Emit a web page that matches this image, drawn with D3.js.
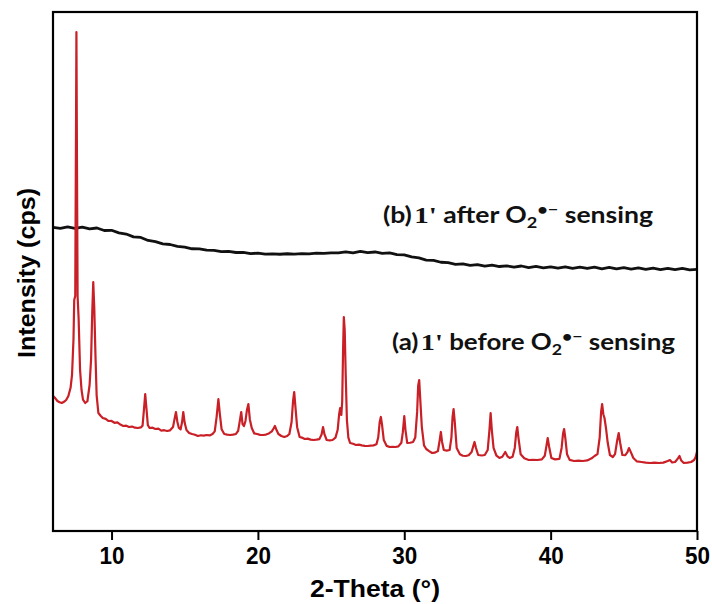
<!DOCTYPE html>
<html>
<head>
<meta charset="utf-8">
<script src="https://cdn.jsdelivr.net/npm/d3@7"></script>
<style>
  html, body { margin: 0; padding: 0; background: #fff; }
  svg { display: block; }
</style>
</head>
<body>
<svg id="chart" width="712" height="604"></svg>
<script>
// XRD patterns of 1' before and after O2•− sensing
// each point: [2θ (degrees), intensity (cps, arbitrary scale)]

// (a) before sensing: sharp crystalline reflections
const beforePattern = [
  [6.0, 2601], [6.15, 2560], [6.3, 2505], [6.45, 2480], [6.6, 2466], [6.75, 2490], [6.9, 2524], [7.05, 2600],
  [7.2, 2760], [7.3, 3006], [7.4, 3700], [7.45, 4450], [7.52, 4528], [7.57, 7600], [7.6, 9615], [7.63, 7600],
  [7.68, 4528], [7.75, 4100], [7.85, 3100], [7.95, 2717], [8.05, 2530], [8.2, 2466], [8.35, 2500], [8.5, 2813],
  [8.6, 3300], [8.68, 4200], [8.75, 4798], [8.82, 4300], [8.9, 3400], [8.98, 2620], [9.1, 2274], [9.25, 2220],
  [9.4, 2177], [9.6, 2160], [9.8, 2119], [10.0, 2120], [10.2, 2085], [10.4, 2092], [10.6, 2050], [10.8, 2023],
  [11.0, 2030], [11.2, 2004], [11.4, 2012], [11.6, 1990], [11.8, 1985], [12.0, 1996], [12.12, 2030], [12.22, 2360],
  [12.3, 2640], [12.38, 2380], [12.48, 2040], [12.6, 1985], [12.8, 1990], [13.0, 1965], [13.2, 1972], [13.4, 1935],
  [13.6, 1942], [13.8, 1927], [14.0, 1940], [14.2, 2004], [14.3, 2150], [14.4, 2293], [14.5, 2100], [14.6, 1985],
  [14.72, 1960], [14.82, 2100], [14.9, 2293], [15.0, 2080], [15.12, 1946], [15.3, 1890], [15.5, 1869], [15.7, 1855],
  [15.9, 1830], [16.1, 1845], [16.3, 1838], [16.5, 1850], [16.7, 1842], [16.9, 1870], [17.05, 1920], [17.18, 2200],
  [17.3, 2543], [17.4, 2250], [17.52, 1960], [17.7, 1869], [17.9, 1858], [18.1, 1850], [18.3, 1856], [18.5, 1870],
  [18.65, 1930], [18.78, 2150], [18.86, 2293], [18.95, 2060], [19.05, 2023], [19.15, 2120], [19.25, 2330], [19.35, 2447],
  [19.45, 2150], [19.58, 1985], [19.75, 1880], [19.95, 1869], [20.15, 1852], [20.35, 1850], [20.55, 1858], [20.75, 1880],
  [20.95, 1920], [21.08, 1980], [21.16, 2023], [21.25, 1960], [21.4, 1869], [21.6, 1830], [21.8, 1811], [22.0, 1830],
  [22.15, 1870], [22.3, 2100], [22.4, 2500], [22.48, 2678], [22.56, 2400], [22.68, 2000], [22.85, 1811], [23.0, 1800],
  [23.2, 1773], [23.4, 1780], [23.6, 1760], [23.8, 1753], [24.0, 1760], [24.2, 1770], [24.35, 1860], [24.45, 2004],
  [24.55, 1860], [24.7, 1753], [24.9, 1745], [25.1, 1753], [25.3, 1800], [25.45, 1950], [25.55, 2250], [25.62, 2370],
  [25.7, 2235], [25.76, 2500], [25.82, 3500], [25.87, 4123], [25.93, 3873], [26.0, 3000], [26.08, 2139], [26.18, 1800],
  [26.3, 1696], [26.5, 1680], [26.7, 1657], [26.9, 1664], [27.1, 1650], [27.3, 1640], [27.5, 1638], [27.7, 1645],
  [27.9, 1650], [28.1, 1670], [28.22, 1800], [28.32, 2100], [28.4, 2197], [28.48, 2050], [28.6, 1753], [28.8, 1640],
  [29.0, 1618], [29.2, 1622], [29.4, 1618], [29.6, 1630], [29.8, 1700], [29.9, 1900], [30.0, 2216], [30.08, 1950],
  [30.2, 1696], [30.4, 1700], [30.6, 1715], [30.75, 1800], [30.88, 2300], [30.95, 2800], [31.02, 2909], [31.1, 2500],
  [31.2, 2000], [31.35, 1650], [31.5, 1580], [31.7, 1540], [31.9, 1503], [32.1, 1510], [32.3, 1541], [32.42, 1750],
  [32.5, 1908], [32.58, 1720], [32.7, 1561], [32.9, 1550], [33.1, 1561], [33.22, 1800], [33.3, 2200], [33.37, 2351],
  [33.45, 2100], [33.58, 1600], [33.8, 1480], [34.0, 1450], [34.2, 1445], [34.4, 1460], [34.6, 1522], [34.72, 1640],
  [34.8, 1715], [34.9, 1600], [35.05, 1464], [35.3, 1455], [35.5, 1464], [35.7, 1560], [35.82, 1950], [35.9, 2274],
  [35.98, 1950], [36.1, 1600], [36.3, 1450], [36.5, 1407], [36.7, 1430], [36.9, 1522], [37.05, 1440], [37.2, 1407],
  [37.4, 1430], [37.55, 1600], [37.65, 1900], [37.72, 2004], [37.8, 1800], [37.95, 1480], [38.2, 1400], [38.5, 1368],
  [38.8, 1372], [39.1, 1368], [39.4, 1380], [39.6, 1450], [39.72, 1650], [39.8, 1792], [39.9, 1620], [40.05, 1407],
  [40.3, 1380], [40.6, 1390], [40.75, 1600], [40.85, 1880], [40.92, 1965], [41.0, 1800], [41.12, 1480], [41.3, 1370],
  [41.6, 1349], [41.9, 1355], [42.2, 1349], [42.5, 1360], [42.8, 1400], [43.0, 1445], [43.2, 1480], [43.35, 1800],
  [43.45, 2300], [43.52, 2447], [43.6, 2250], [43.68, 2177], [43.78, 1985], [43.9, 1700], [44.05, 1464], [44.25, 1426],
  [44.4, 1480], [44.55, 1750], [44.65, 1888], [44.75, 1700], [44.9, 1464], [45.1, 1460], [45.25, 1520], [45.35, 1599],
  [45.48, 1520], [45.65, 1407], [45.9, 1340], [46.2, 1329], [46.5, 1318], [46.8, 1310], [47.1, 1316], [47.4, 1310],
  [47.7, 1318], [48.0, 1349], [48.15, 1368], [48.3, 1320], [48.5, 1330], [48.7, 1400], [48.8, 1445], [48.92, 1360],
  [49.1, 1310], [49.35, 1318], [49.6, 1329], [49.8, 1368], [49.9, 1420], [50.0, 1522]
];

// (b) after sensing: amorphous, broad humps only
const afterPattern = [
  [6.0, 5850], [6.5, 5830], [7.0, 5858], [7.5, 5832], [8.0, 5856], [8.5, 5820], [9.0, 5838], [9.5, 5790],
  [10.0, 5794], [10.5, 5744], [11.0, 5722], [11.5, 5668], [12.0, 5656], [12.5, 5598], [13.0, 5576], [13.5, 5532],
  [14.0, 5520], [14.5, 5484], [15.0, 5468], [15.5, 5438], [16.0, 5436], [16.5, 5412], [17.0, 5406], [17.5, 5384],
  [18.0, 5386], [18.5, 5366], [19.0, 5368], [19.5, 5344], [20.0, 5354], [20.5, 5334], [21.0, 5340], [21.5, 5332],
  [22.0, 5342], [22.5, 5336], [23.0, 5344], [23.5, 5340], [24.0, 5354], [24.5, 5350], [25.0, 5360], [25.5, 5358],
  [26.0, 5380], [26.5, 5360], [27.0, 5386], [27.5, 5362], [28.0, 5376], [28.5, 5348], [29.0, 5358], [29.5, 5326],
  [30.0, 5320], [30.5, 5282], [31.0, 5262], [31.5, 5220], [32.0, 5214], [32.5, 5178], [33.0, 5170], [33.5, 5138],
  [34.0, 5146], [34.5, 5120], [35.0, 5132], [35.5, 5104], [36.0, 5124], [36.5, 5096], [37.0, 5108], [37.5, 5086],
  [38.0, 5106], [38.5, 5076], [39.0, 5098], [39.5, 5070], [40.0, 5090], [40.5, 5066], [41.0, 5088], [41.5, 5060],
  [42.0, 5084], [42.5, 5058], [43.0, 5082], [43.5, 5052], [44.0, 5078], [44.5, 5050], [45.0, 5074], [45.5, 5046],
  [46.0, 5070], [46.5, 5042], [47.0, 5066], [47.5, 5038], [48.0, 5062], [48.5, 5036], [49.0, 5058], [49.5, 5032],
  [50.0, 5042]
];

const xTicks = [10, 20, 30, 40, 50];
const xDomain = [6, 50];
const yDomain = [0, 10000];

const svg = d3.select("#chart");
const margin = { left: 53, right: 15, top: 12, bottom: 73 };
const W = 712, H = 604;
const plotW = W - margin.left - margin.right;
const plotH = H - margin.top - margin.bottom;

const x = d3.scaleLinear().domain(xDomain).range([margin.left, margin.left + plotW]);
const y = d3.scaleLinear().domain(yDomain).range([margin.top + plotH, margin.top]);

const line = d3.line().x(d => x(d[0])).y(d => y(d[1]));

svg.append("clipPath").attr("id", "plotclip")
  .append("rect").attr("x", margin.left).attr("y", margin.top).attr("width", plotW).attr("height", plotH);

const g = svg.append("g").attr("clip-path", "url(#plotclip)");

g.append("path").datum(afterPattern)
  .attr("fill", "none").attr("stroke", "#111").attr("stroke-width", 2.8)
  .attr("stroke-linejoin", "round")
  .attr("d", line);

g.append("path").datum(beforePattern)
  .attr("fill", "none").attr("stroke", "#c91f26").attr("stroke-width", 2.2)
  .attr("stroke-linejoin", "round")
  .attr("d", line);

// frame
svg.append("rect")
  .attr("x", margin.left).attr("y", margin.top).attr("width", plotW).attr("height", plotH)
  .attr("fill", "none").attr("stroke", "#000").attr("stroke-width", 2.2);

// x axis
const xAxis = d3.axisBottom(x).tickValues(xTicks).tickSize(9).tickSizeOuter(0).tickPadding(6);
const ax = svg.append("g").attr("transform", `translate(0,${margin.top + plotH})`).call(xAxis);
ax.select(".domain").remove();
ax.selectAll(".tick line").attr("stroke", "#000").attr("stroke-width", 2);
ax.selectAll(".tick text")
  .attr("font-family", "'Liberation Sans', Arial, sans-serif")
  .attr("font-weight", "bold").attr("font-size", 24).attr("fill", "#000")
  .attr("textLength", 25).attr("lengthAdjust", "spacingAndGlyphs")
  .attr("dy", "0.75em");

// axis titles
svg.append("text")
  .attr("x", 375).attr("y", 597)
  .attr("text-anchor", "middle")
  .attr("font-family", "'Liberation Sans', Arial, sans-serif")
  .attr("font-weight", "bold").attr("font-size", 24)
  .attr("textLength", 130).attr("lengthAdjust", "spacingAndGlyphs")
  .text("2-Theta (°)");

svg.append("text")
  .attr("transform", "translate(35,273) rotate(-90)")
  .attr("text-anchor", "middle")
  .attr("font-family", "'Liberation Sans', Arial, sans-serif")
  .attr("font-weight", "bold").attr("font-size", 24)
  .attr("textLength", 170).attr("lengthAdjust", "spacingAndGlyphs")
  .text("Intensity (cps)");

// series labels
function seriesLabel(x0, y0, tag, word, width) {
  const t = svg.append("text").attr("x", x0).attr("y", y0)
    .attr("font-family", "Lato, 'Open Sans', sans-serif")
    .attr("font-weight", "bold").attr("font-size", 22).attr("fill", "#111")
    .attr("textLength", width).attr("lengthAdjust", "spacingAndGlyphs");
  t.append("tspan").text(tag);
  t.append("tspan").attr("font-family", "'Liberation Serif', 'Times New Roman', serif")
    .attr("font-size", 24).attr("dx", 2).text("1'");
  t.append("tspan").text(` ${word} O`);
  t.append("tspan").attr("font-size", 15).attr("dy", 5).text("2");
  t.append("tspan").attr("font-size", 15).attr("dy", -13).text("•−");
  t.append("tspan").attr("dy", 8).text(" sensing");
  return t;
}
seriesLabel(383, 223, "(b)", "after", 270);
seriesLabel(392, 350, "(a)", "before", 283);
</script>
</body>
</html>
